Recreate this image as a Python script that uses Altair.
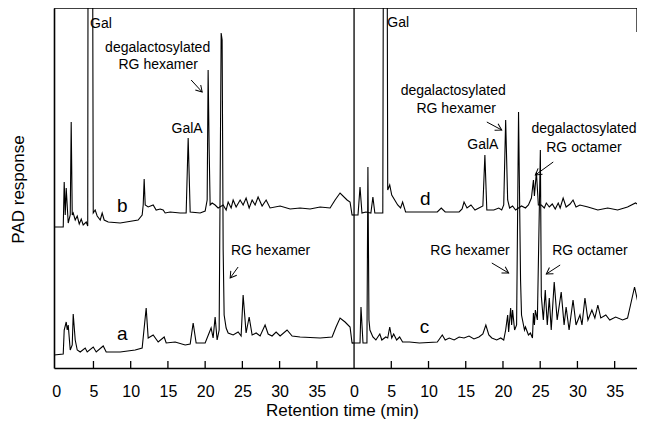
import math
import altair as alt
import pandas as pd

# ---- trace a (left panel, lower chromatogram) : retention time (min), PAD response
a_time = [-0.3, 0.94, 1.07, 1.34, 1.48, 1.61, 1.88, 2.15, 2.28, 2.55, 2.82, 3.22, 3.89, 4.16, 4.97, 5.37,
          6.31, 6.71, 8.59, 10.6, 11.54, 12.08, 12.35, 13.02, 13.69, 14.5, 14.77, 15.97, 17.32, 17.99, 18.39,
          18.79, 20.0, 20.8, 21.07, 21.34, 21.61, 21.88, 22.15, 22.28, 22.42, 22.55, 22.82, 23.09, 23.76,
          24.43, 24.83, 25.1, 25.5, 25.91, 26.31, 26.85, 27.38, 28.05, 28.46, 28.99, 29.53, 30.07, 31.0,
          31.68, 32.75, 35.44, 37.05, 37.58, 38.12, 38.79, 39.46, 39.73, 39.9]
a_resp = [13, 14, 38, 46, 38, 43, 18, 23, 54, 28, 18, 16, 20, 16, 21, 16, 22, 16, 16, 18, 20, 60, 30, 33,
          26, 31, 25, 26, 23, 24, 45, 25, 25, 40, 30, 51, 28, 38, 335, 328, 118, 53, 40, 35, 33, 36, 32, 73,
          35, 51, 33, 35, 32, 43, 34, 32, 36, 32, 38, 32, 31, 30, 31, 41, 50, 46, 41, 25, 25]

# ---- trace b (left panel, upper chromatogram)
b_time = [-0.3, 0.94, 1.07, 1.21, 1.34, 1.61, 1.88, 2.01, 2.15, 2.28, 2.55, 2.82, 3.09, 3.36, 3.62, 4.03,
          4.23, 4.30, 4.83, 4.97, 5.23, 5.5, 5.91, 6.17, 6.44, 6.98, 8.59, 11.0, 11.54, 11.68, 11.81, 11.95,
          12.35, 13.02, 13.42, 13.96, 14.36, 14.63, 15.3, 16.64, 17.45, 17.72, 17.99, 19.33, 20.0, 20.27,
          20.4, 20.54, 20.67, 20.94, 21.34, 21.74, 22.42, 22.82, 23.09, 23.49, 23.76, 24.16, 24.7, 25.1,
          25.5, 25.91, 26.31, 26.71, 27.11, 27.65, 28.19, 28.72, 30.07, 31.41, 32.75, 34.09, 35.44, 36.78,
          37.45, 38.12, 39.06, 39.46, 39.73, 39.9]
b_resp = [141, 141, 186, 153, 180, 145, 153, 246, 153, 155, 148, 152, 144, 149, 143, 146, 142, 600, 600,
          155, 158, 152, 148, 155, 148, 146, 145, 148, 153, 163, 189, 163, 161, 163, 158, 159, 158, 155,
          156, 155, 155, 230, 156, 155, 157, 168, 298, 218, 163, 165, 163, 160, 163, 158, 166, 160, 168,
          161, 168, 163, 170, 160, 168, 163, 171, 162, 168, 160, 162, 159, 160, 159, 161, 160, 168, 175,
          168, 166, 153, 153]

# ---- trace c (right panel, lower chromatogram)
c_time = [-0.27, 0.8, 0.93, 1.2, 1.73, 1.86, 2.0, 2.13, 2.53, 2.93, 3.19, 3.46, 3.73, 4.26, 4.52, 4.79,
          5.06, 5.32, 5.72, 6.12, 6.52, 7.45, 8.78, 11.18, 11.85, 12.24, 12.78, 13.44, 14.11, 14.77, 15.44,
          16.1, 16.77, 17.3, 17.7, 18.1, 18.5, 19.16, 19.7, 20.1, 20.36, 20.63, 20.76, 21.03, 21.16, 21.29,
          21.56, 21.83, 22.09, 22.36, 22.49, 22.89, 23.02, 23.42, 23.69, 23.96, 24.09, 24.22, 24.35, 24.62,
          25.02, 25.15, 25.42, 25.68, 25.95, 26.22, 26.48, 26.88, 27.28, 27.82, 28.21, 28.48, 28.88, 29.41,
          29.81, 30.34, 30.61, 31.01, 31.41, 31.94, 32.34, 32.74, 33.14, 33.81, 34.34, 35.13, 36.07, 36.73,
          37.13, 37.67, 38.2, 38.46]
c_resp = [25, 25, 61, 25, 25, 201, 48, 38, 31, 28, 31, 34, 28, 31, 30, 41, 30, 34, 28, 31, 26, 26, 25, 26,
          33, 28, 30, 28, 31, 30, 32, 29, 31, 34, 43, 33, 30, 28, 30, 28, 38, 53, 36, 60, 43, 58, 38, 43,
          256, 88, 53, 38, 41, 33, 35, 30, 55, 43, 58, 48, 218, 72, 48, 78, 43, 70, 38, 86, 48, 76, 43, 61,
          38, 68, 43, 53, 43, 70, 48, 58, 50, 63, 50, 53, 48, 51, 48, 50, 63, 81, 63, 58]

# ---- trace d (right panel, upper chromatogram)
d_time = [-0.2, 0.53, 0.8, 1.06, 1.6, 2.26, 2.53, 2.79, 3.86, 3.99, 4.39, 4.52, 4.79, 5.06, 5.46, 5.86,
          6.25, 6.52, 6.92, 8.78, 11.18, 11.71, 12.24, 14.11, 14.51, 14.77, 15.17, 15.7, 16.24, 16.77, 17.3,
          17.57, 17.83, 18.77, 19.43, 19.83, 20.1, 20.36, 20.63, 20.89, 21.29, 21.69, 22.49, 23.02, 23.42,
          23.82, 24.09, 24.22, 24.49, 24.75, 25.15, 25.55, 25.82, 26.22, 26.62, 27.02, 27.42, 27.68, 28.08,
          28.48, 29.01, 29.41, 29.81, 30.34, 31.41, 32.74, 34.07, 35.4, 36.73, 37.8, 38.46]
d_resp = [153, 153, 181, 155, 156, 155, 171, 155, 155, 600, 600, 178, 183, 173, 168, 163, 160, 166, 156,
          156, 156, 160, 156, 156, 159, 166, 160, 163, 158, 160, 162, 213, 158, 158, 160, 158, 163, 248,
          168, 160, 162, 158, 162, 160, 163, 170, 188, 172, 196, 163, 163, 160, 165, 161, 164, 159, 165,
          160, 170, 161, 164, 168, 161, 163, 161, 158, 160, 158, 161, 165, 162]

# ---- axis ticks (each panel runs 0..35 min; right panel starts 40 units later)
panel_offset = 40
tick_minutes = [0, 5, 10, 15, 20, 25, 30, 35]

# ---- annotations
ann_text = ["Gal", "degalactosylated", "RG hexamer", "GalA", "RG hexamer",
            "Gal", "degalactosylated", "RG hexamer", "GalA", "degalactosylated", "RG octamer",
            "RG hexamer", "RG octamer"]
ann_pos = [6.0, 13.62, 13.69, 17.58, 28.79, 45.92, 53.31, 53.71, 57.3, 70.88, 70.88, 55.57, 71.67]
ann_resp = [340, 316, 299, 235, 113, 341, 273, 255, 219, 235, 216, 113, 113]

trace_letters = ["b", "a", "d", "c"]
letter_pos = [8.86, 8.86, 49.58, 49.45]
letter_resp = [156, 28, 163, 35]

arrow_x1 = [18.12, 24.43, 57.83, 66.75, 58.5, 67.68]
arrow_y1 = [288, 101, 246, 206, 105, 103]
arrow_x2 = [19.6, 23.36, 59.83, 64.35, 60.76, 65.82]
arrow_y2 = [276, 90, 238, 193, 95, 94]

# ------------------------------------------------------------------
W, H = 583, 360
XMIN, XMAX = -0.3, 78.0
YMIN, YMAX = 0, 360
TICK_LEN = 7
FONT = "Liberation Sans"

rows = []
for name, ts, rs, off in [("a", a_time, a_resp, 0), ("b", b_time, b_resp, 0),
                          ("c", c_time, c_resp, panel_offset), ("d", d_time, d_resp, panel_offset)]:
    assert len(ts) == len(rs), name
    for i, (t, r) in enumerate(zip(ts, rs)):
        rows.append({"trace": name, "pos": t + off, "resp": r, "i": i})
df = pd.DataFrame(rows)

xs = alt.Scale(domain=[XMIN, XMAX], nice=False, zero=False)
ys = alt.Scale(domain=[YMIN, YMAX], nice=False, zero=False)

all_ticks = tick_minutes + [m + panel_offset for m in tick_minutes]

X_AX = alt.Axis(
    values=all_ticks, labelExpr="'' + (datum.value % 40)", ticks=False, grid=False,
    domain=True, domainColor="black", domainWidth=1.6, labelFontSize=16, labelColor="black",
    labelPadding=15, labelFlush=False, labelOverlap=False, labelBound=False,
    title="Retention time (min)", titleFontSize=17, titleFontWeight="normal", titleColor="black",
    titleX=288, titleY=47, titleBaseline="alphabetic")
Y_AX = alt.Axis(
    ticks=False, labels=False, grid=False, domain=True, domainColor="black", domainWidth=1.6,
    title="PAD response", titleFontSize=17, titleFontWeight="normal", titleColor="black",
    titleAngle=270, titleX=-31, titleY=181, titleBaseline="alphabetic", titleAlign="center")


def X(field):
    return alt.X(field, scale=xs, axis=X_AX)


def Y(field):
    return alt.Y(field, scale=ys, axis=Y_AX)


lines = alt.Chart(df).mark_line(color="black", strokeWidth=1.1, clip=True).encode(
    x=X("pos:Q"), y=Y("resp:Q"), detail="trace:N", order="i:Q")

tick_df = pd.DataFrame({"pos": [t for t in all_ticks if t not in (0, panel_offset)]})
tick_df["lo"] = YMIN
tick_df["hi"] = YMIN + TICK_LEN
ticks = alt.Chart(tick_df).mark_rule(color="black", strokeWidth=1.3).encode(
    x=X("pos:Q"), y=Y("lo:Q"), y2="hi:Q")

frame_df = pd.DataFrame({
    "x1": [XMIN, panel_offset, XMAX],
    "x2": [XMAX, panel_offset, XMAX],
    "y1": [YMAX, YMIN, 336],
    "y2": [YMAX, YMAX, YMAX],
    "w": [1.6, 1.3, 1.3],
})
frame = alt.Chart(frame_df).mark_rule(color="black").encode(
    x=X("x1:Q"), x2="x2:Q", y=Y("y1:Q"), y2="y2:Q",
    strokeWidth=alt.StrokeWidth("w:Q", scale=None))

ann_df = pd.DataFrame({"pos": ann_pos, "resp": ann_resp, "text": ann_text})
ann = alt.Chart(ann_df).mark_text(fontSize=14, color="black", align="center",
                                  baseline="alphabetic").encode(
    x=X("pos:Q"), y=Y("resp:Q"), text="text:N")

let_df = pd.DataFrame({"pos": letter_pos, "resp": letter_resp, "text": trace_letters})
letters = alt.Chart(let_df).mark_text(fontSize=19, color="black", align="center",
                                      baseline="alphabetic").encode(
    x=X("pos:Q"), y=Y("resp:Q"), text="text:N")

kx = W / (XMAX - XMIN)
ky = H / (YMAX - YMIN)
angles = []
for x1, y1, x2, y2 in zip(arrow_x1, arrow_y1, arrow_x2, arrow_y2):
    dx = (x2 - x1) * kx
    dy = -(y2 - y1) * ky
    angles.append((math.degrees(math.atan2(dx, -dy)) + 360) % 360)
arr_df = pd.DataFrame({"x1": arrow_x1, "y1": arrow_y1, "x2": arrow_x2, "y2": arrow_y2, "angle": angles})
shafts = alt.Chart(arr_df).mark_rule(color="black", strokeWidth=1).encode(
    x=X("x1:Q"), y=Y("y1:Q"), x2="x2:Q", y2="y2:Q")
heads = alt.Chart(arr_df).mark_point(shape="M -0.6 1 L 0 0 L 0.6 1", filled=False, color="black",
                                     strokeWidth=1, size=150, opacity=1).encode(
    x=X("x2:Q"), y=Y("y2:Q"), angle=alt.Angle("angle:Q", scale=None))

chart = alt.layer(lines, ticks, frame, ann, letters, shafts, heads).properties(
    width=W, height=H,
    autosize=alt.AutoSizeParams(type="none"),
    padding={"left": 46, "top": 0, "right": 0, "bottom": 51},
).configure(font=FONT).configure_view(stroke=None).configure_axis(labelOverlap=False)

chart.save("out.html", embed_options={"renderer": "svg", "actions": False})
